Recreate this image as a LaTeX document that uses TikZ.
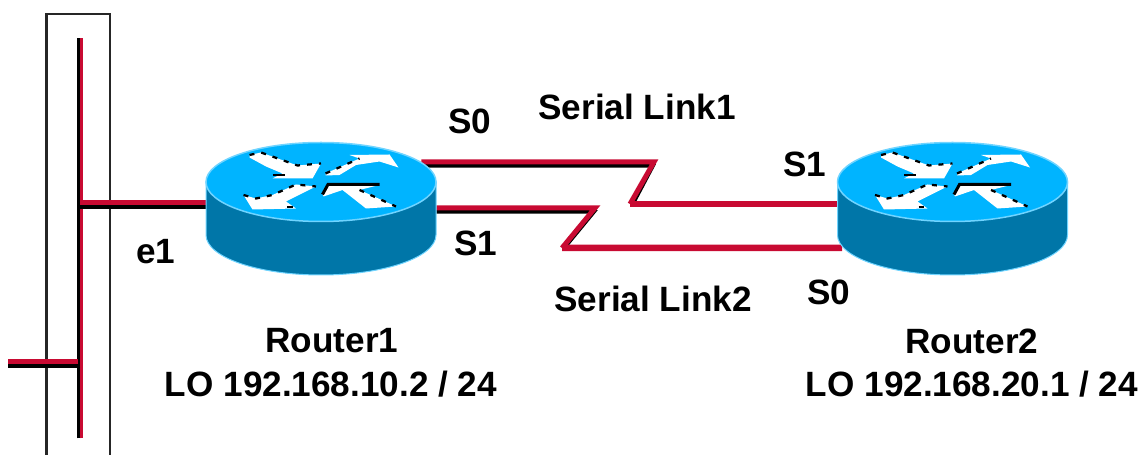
\documentclass[tikz,border=0pt]{standalone}
\usepackage{fontspec}
\setmainfont{Liberation Sans}
\definecolor{linkred}{HTML}{C80A32}
\definecolor{routertop}{HTML}{00B4FF}
\definecolor{routerside}{HTML}{0076A8}
\definecolor{routerrim}{HTML}{70D4FF}
\tikzset{
  lbl/.style={font=\fontsize{20}{24}\selectfont\bfseries,inner sep=0pt},
  routerbox/.style={minimum width=4.6cm,minimum height=2.64cm,inner sep=0pt},
  redline/.style={draw=linkred,line width=0.1cm},
  redthick/.style={draw=linkred,line width=0.13cm},
  shade/.style={draw=black,line width=0.07cm},
  dots/.style={black,line width=0.045cm,dash pattern=on 0.1cm off 0.14cm},
  router/.pic={
    \fill[routerside,draw=routerrim,line width=0.02cm] (-2.3,-0.52) arc (180:360:2.3 and 0.8) -- (2.3,0.54) -- (-2.3,0.54) -- cycle;
    \fill[routertop,draw=routerrim,line width=0.03cm] (0,0.54) ellipse (2.3 and 0.79);
    % the four arrows
    \fill[white] (-1.43,1.08) -- (-1.2,1.13) -- (-0.47,0.87) -- (0,0.91) -- (-0.17,0.61) -- (-0.97,0.61) -- (-0.77,0.71) -- (-1.1,0.85) -- (-1.43,1.03) -- cycle;
    \fill[white] (0.09,0.71) -- (0.77,1.01) -- (0.57,1.08) -- (1.37,1.09) -- (1.55,0.83) -- (1.17,0.95) -- (0.7,0.88) -- (0.37,0.68) -- (0.09,0.67) -- cycle;
    \fill[white] (-1.55,0.28) -- (-1.3,0.21) -- (-0.97,0.28) -- (-0.5,0.49) -- (-0.1,0.45) -- (-0.7,0.15) -- (-0.5,0.01) -- (-1.37,-0.01) -- cycle;
    \fill[white] (0.03,0.29) -- (0.14,0.49) -- (1.17,0.48) -- (0.77,0.38) -- (1.5,0.05) -- (0.9,0.01) -- (0.43,0.38) -- (0.05,0.25) -- cycle;
    \draw[dots] (-1.43,1.08) -- (-1.2,1.13) -- (-0.47,0.87) -- (0,0.91);
    \draw[dots] (0.09,0.71) -- (0.77,1.01);
    \draw[dots] (-1.55,0.28) -- (-1.3,0.21) -- (-0.97,0.28) -- (-0.5,0.49) -- (-0.1,0.45);
    \draw[dots] (0.77,0.38) -- (1.5,0.05);
    \draw[black,line width=0.06cm] (0.03,0.29) -- (0.14,0.49) -- (1.17,0.49);
    \draw[black,line width=0.04cm] (-0.97,0.67) -- (-0.73,0.67);
    \draw[black,line width=0.04cm] (-0.68,0.03) -- (-0.57,0.03);
  }
}
\begin{document}
\begin{tikzpicture}
\useasboundingbox (0,0) rectangle (22.8,9.1);
%\draw[step=1cm,gray,very thin] (0,0) grid (22,9);
% segment box, open at the bottom
\draw[black!85,line width=0.05cm] (0.93,0) -- (0.93,8.82) -- (2.2,8.82) -- (2.2,0);
% nodes
\node[routerbox] (router1) at (6.42,4.92) {};
\node[routerbox] (router2) at (19.05,4.92) {};
\node[minimum width=0.1cm,minimum height=8cm,inner sep=0pt] (bus) at (1.6,4.34) {};
\coordinate (host) at (0.16,1.86);
\coordinate (bend1a) at (13.08,5.86);
\coordinate (bend1b) at (12.6,5.02);
\coordinate (bend2a) at (11.9,4.94);
\coordinate (bend2b) at (11.24,4.14);
% segment and stubs
\draw[shade,line width=0.05cm] ([xshift=-0.03cm]bus.south) -- ([xshift=-0.03cm]bus.north);
\draw[redline,line width=0.06cm] ([xshift=0.03cm]bus.south) -- ([xshift=0.03cm]bus.north);
\draw[shade] ([yshift=-0.08cm]bus.center |- host) -- ([yshift=-0.08cm]host);
\draw[shade] ([yshift=0.04cm]router1.west) -- ([yshift=0.04cm]bus.center |- router1.west);
\draw[redline] ([yshift=0.12cm]router1.west) -- ([yshift=0.12cm]bus.center |- router1.west);
\draw[redline] ([xshift=-0.04cm]bus.center |- host) -- (host);
% serial links
\draw[shade] ([yshift=0.86cm,xshift=-0.3cm]router1.east) -- (13.06,5.78) -- (12.68,5.06);
\draw[redline] ([yshift=0.94cm,xshift=-0.3cm]router1.east) -- (bend1a) -- (bend1b);
\draw[redthick] (bend1b) -- ([yshift=0.1cm]router2.west);
\draw[shade] ([yshift=-0.06cm]router1.east) -- (11.88,4.86) -- (11.32,4.18);
\draw[redline] ([yshift=0.02cm]router1.east) -- (bend2a) -- (bend2b);
\draw[redthick] (bend2b) -- ([yshift=-0.78cm,xshift=0.1cm]router2.west);
% routers on top of the lines
\pic at (router1) {router};
\pic at (router2) {router};
% labels
\node[lbl] (ll1) at (12.74,6.96) {Serial Link1};
\node[lbl] (s0a) at (9.4,6.68) {S0};
\node[lbl] (s1b) at (16.1,5.82) {S1};
\node[lbl] (e1) at (3.12,4.06) {e1};
\node[lbl] (s1a) at (9.52,4.24) {S1};
\node[lbl] (ll2) at (13.06,3.12) {Serial Link2};
\node[lbl] (s0b) at (16.58,3.26) {S0};
\node[lbl] (name1) at (6.64,2.28) {Router1};
\node[lbl] (addr1) at (6.62,1.42) {LO 192.168.10.2 / 24};
\node[lbl] (name2) at (19.44,2.28) {Router2};
\node[lbl] (addr2) at (19.44,1.42) {LO 192.168.20.1 / 24};
\end{tikzpicture}
\end{document}
